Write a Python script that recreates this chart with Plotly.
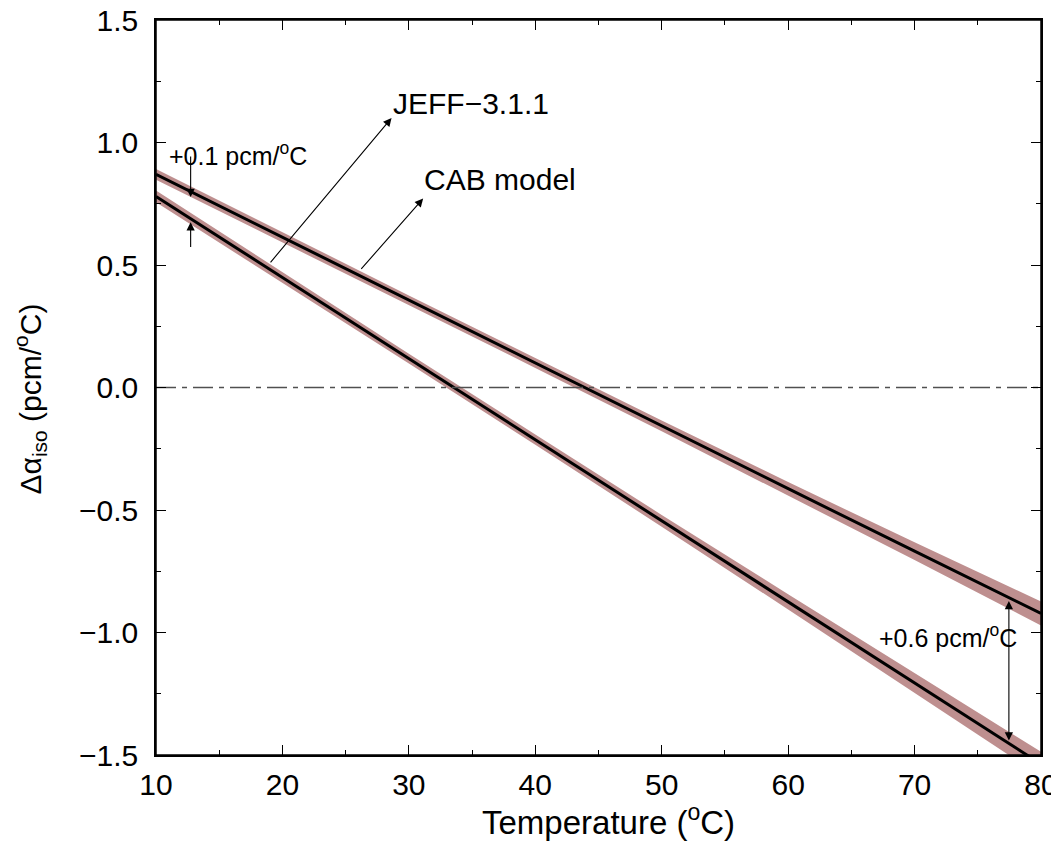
import plotly.graph_objects as go

# ---- data ----
temps = [10, 20, 30, 40, 50, 60, 70, 80]
cab_values = [0.870, 0.613, 0.357, 0.100, -0.157, -0.413, -0.668, -0.922]
cab_unc = [0.022, 0.020, 0.019, 0.020, 0.022, 0.027, 0.036, 0.049]
jeff_values = [0.780, 0.449, 0.118, -0.213, -0.544, -0.875, -1.206, -1.537]
jeff_unc = [0.024, 0.021, 0.020, 0.021, 0.024, 0.031, 0.040, 0.050]

x_ticks = [10, 20, 30, 40, 50, 60, 70, 80]
y_ticks = [-1.5, -1.0, -0.5, 0.0, 0.5, 1.0, 1.5]

band_color = "rgb(190,143,143)"
FONT = "Liberation Sans, Arial, Helvetica, sans-serif"

fig = go.Figure()


def add_series(vals, unc, name):
    upper = [v + u for v, u in zip(vals, unc)]
    lower = [v - u for v, u in zip(vals, unc)]
    fig.add_trace(go.Scatter(x=temps, y=upper, mode="lines", line=dict(width=0, color=band_color),
                             hoverinfo="skip", showlegend=False))
    fig.add_trace(go.Scatter(x=temps, y=lower, mode="lines", line=dict(width=0, color=band_color),
                             fill="tonexty", fillcolor=band_color, hoverinfo="skip", showlegend=False))
    fig.add_trace(go.Scatter(x=temps, y=vals, mode="lines", line=dict(width=3, color="black"),
                             name=name, showlegend=False))


add_series(cab_values, cab_unc, "CAB model")
add_series(jeff_values, jeff_unc, "JEFF-3.1.1")

# zero reference line (dash-dot)
fig.add_trace(go.Scatter(x=[10, 80], y=[0, 0], mode="lines",
                         line=dict(color="rgb(80,80,80)", width=1.5, dash="20px,6px,5px,6px"),
                         hoverinfo="skip", showlegend=False))

# ---- annotations ----
ann_font = dict(family=FONT, size=30, color="black")
small_font = dict(family=FONT, size=25, color="black")

fig.add_annotation(x=28.6, y=1.161, xref="x", yref="y", text="JEFF\u22123.1.1",
                   showarrow=False, xanchor="left", yanchor="middle", font=ann_font)
fig.add_annotation(x=31.0, y=0.851, xref="x", yref="y", text="CAB model",
                   showarrow=False, xanchor="left", yanchor="middle", font=ann_font)
fig.add_annotation(x=10.9, y=0.955, xref="x", yref="y", text="+0.1 pcm/<sup>o</sup>C",
                   showarrow=False, xanchor="left", yanchor="middle", font=small_font)
fig.add_annotation(x=67.0, y=-1.015, xref="x", yref="y", text="+0.6 pcm/<sup>o</sup>C",
                   showarrow=False, xanchor="left", yanchor="middle", font=small_font)

arrow_common = dict(xref="x", yref="y", axref="x", ayref="y", text="", showarrow=True,
                    arrowhead=2, arrowsize=1.5, arrowwidth=1.1, arrowcolor="black",
                    standoff=0, startstandoff=0)
# JEFF arrow
fig.add_annotation(x=28.63, y=1.100, ax=18.96, ay=0.505, **arrow_common)
# CAB arrow
fig.add_annotation(x=31.13, y=0.771, ax=26.13, ay=0.478, **arrow_common)
# +0.1 arrows
fig.add_annotation(x=12.74, y=0.778, ax=12.74, ay=0.949, **arrow_common)
fig.add_annotation(x=12.74, y=0.675, ax=12.74, ay=0.567, **arrow_common)
# +0.6 double arrow
fig.add_annotation(x=77.46, y=-0.871, ax=77.46, ay=-1.447, arrowside="end+start",
                   startarrowhead=2, startarrowsize=1.5, **arrow_common)

# axis titles
fig.add_annotation(x=0.5115, y=-0.089, xref="paper", yref="paper", text="Temperature (<sup>o</sup>C)",
                   showarrow=False, xanchor="center", yanchor="middle",
                   font=dict(family=FONT, size=33, color="black"))
fig.add_annotation(x=-0.1424, y=0.485, xref="paper", yref="paper",
                   text="\u0394\u03b1<sub>iso</sub> (pcm/<sup>o</sup>C)", textangle=-90,
                   showarrow=False, xanchor="center", yanchor="middle",
                   font=dict(family=FONT, size=30, color="black"))

# plot frame
fig.add_shape(type="rect", xref="paper", yref="paper", x0=0, x1=1, y0=0, y1=1,
              line=dict(color="black", width=1.5), layer="above")

axis_common = dict(showline=True, linecolor="black", linewidth=1.5, mirror="ticks",
                   ticks="inside", ticklen=10, tickwidth=1.3, tickcolor="black",
                   showgrid=False, zeroline=False, automargin=False,
                   ticklabeloverflow="allow",
                   tickfont=dict(family=FONT, size=30, color="black"))

fig.update_xaxes(range=[10, 80], tickvals=x_ticks, ticktext=[str(t) for t in x_ticks],
                 minor=dict(dtick=5, ticks="inside", ticklen=5, tickwidth=1.1, tickcolor="black", showgrid=False),
                 ticklabelstandoff=2,
                 **axis_common)
fig.update_yaxes(range=[-1.5, 1.5], tickvals=y_ticks,
                 ticktext=[("\u2212" if v < 0 else "") + f"{abs(v):.1f}" for v in y_ticks],
                 minor=dict(dtick=0.25, ticks="inside", ticklen=5, tickwidth=1.1, tickcolor="black", showgrid=False),
                 ticklabelstandoff=10,
                 **axis_common)

# the page body adds an 8px margin; margins are offset so the plot area lands where the reference has it
fig.update_layout(width=1059, height=841, margin=dict(l=148, r=26, t=12, b=94),
                  plot_bgcolor="white", paper_bgcolor="white", showlegend=False)

fig.write_html("out.html")
